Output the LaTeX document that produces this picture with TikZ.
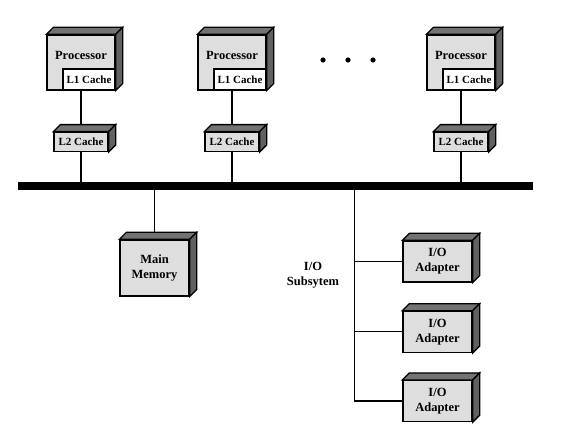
\documentclass[tikz,border=0pt]{standalone}
\usepackage{fontspec}
\setmainfont{Liberation Serif}
\usetikzlibrary{positioning}
\definecolor{frontgray}{gray}{0.87}
\definecolor{topgray}{gray}{0.45}
\definecolor{sidegray}{gray}{0.38}
\begin{document}
\begin{tikzpicture}[x=1pt,y=-1pt,
  font=\bfseries\fontsize{12.5}{15}\selectfont,
  box/.style={draw,line width=1.3pt,fill=frontgray,inner sep=0pt,align=center},
  cpu/.style={box,minimum width=68pt,minimum height=55pt},
  cachebox/.style={draw,line width=1.3pt,inner sep=0pt,font=\bfseries\fontsize{11}{13}\selectfont},
  lone/.style={cachebox,fill=white,minimum width=52pt,minimum height=21pt},
  ltwo/.style={cachebox,fill=frontgray,minimum width=54pt,minimum height=19pt},
  unit/.style={box,minimum width=69pt,minimum height=56pt},
  adapter/.style={box,minimum width=69pt,minimum height=41pt},
  wire/.style={line width=1.3pt}]
  \useasboundingbox (0,0) rectangle (575,430);
  \node (p1) [cpu,label={[yshift=7.5pt]center:Processor}] at (81,62.5) {};
  \node (p2) [cpu,label={[yshift=7.5pt]center:Processor}] at (232,62.5) {};
  \node (p3) [cpu,label={[yshift=7.5pt]center:Processor}] at (461,62.5) {};
  \foreach \i in {1,2,3} {
    \node (l\i) [lone,anchor=south east] at (p\i.south east) {L1 Cache};
    \node (c\i) [ltwo,below=41pt of p\i] {L2 Cache};
  }
  \foreach \x in {323,348,373}
    \fill (\x,60) circle (2.6pt);
  \node (bus) [fill=black,minimum width=515pt,minimum height=8pt,inner sep=0pt] at (275.5,186) {};
  \node (mm) [unit] at (154.5,268) {Main\\Memory};
  \node (io1) [adapter] at (437.5,261.5) {I/O\\Adapter};
  \node (io2) [adapter,below=28pt of io1] {I/O\\Adapter};
  \node (io3) [adapter,below=27pt of io2] {I/O\\Adapter};
  \node (iolabel) [align=center] at (313,275) {I/O\\Subsytem};
  \foreach \i in {1,2,3} {
    \draw[wire] (p\i.south) -- (c\i.north);
    \draw[wire] (c\i.south) -- (c\i.south |- bus.north);
  }
  \draw[wire] (mm.north |- bus.south) -- (mm.north);
  \draw[wire] (io3.west) -- ++(-48,0) coordinate (iobot) -- (iobot |- bus.south);
  \draw[wire] (io1.west) -- (io1.west -| iobot);
  \draw[wire] (io2.west) -- (io2.west -| iobot);
  \foreach \n in {p1,p2,p3,c1,c2,c3,mm,io1,io2,io3} {
    \filldraw[wire,fill=topgray] (\n.north west) -- ([shift={(7,-7)}]\n.north west)
      -- ([shift={(7,-7)}]\n.north east) -- (\n.north east) -- cycle;
    \filldraw[wire,fill=sidegray] (\n.north east) -- ([shift={(7,-7)}]\n.north east)
      -- ([shift={(7,-7)}]\n.south east) -- (\n.south east) -- cycle;
  }
\end{tikzpicture}
\end{document}
